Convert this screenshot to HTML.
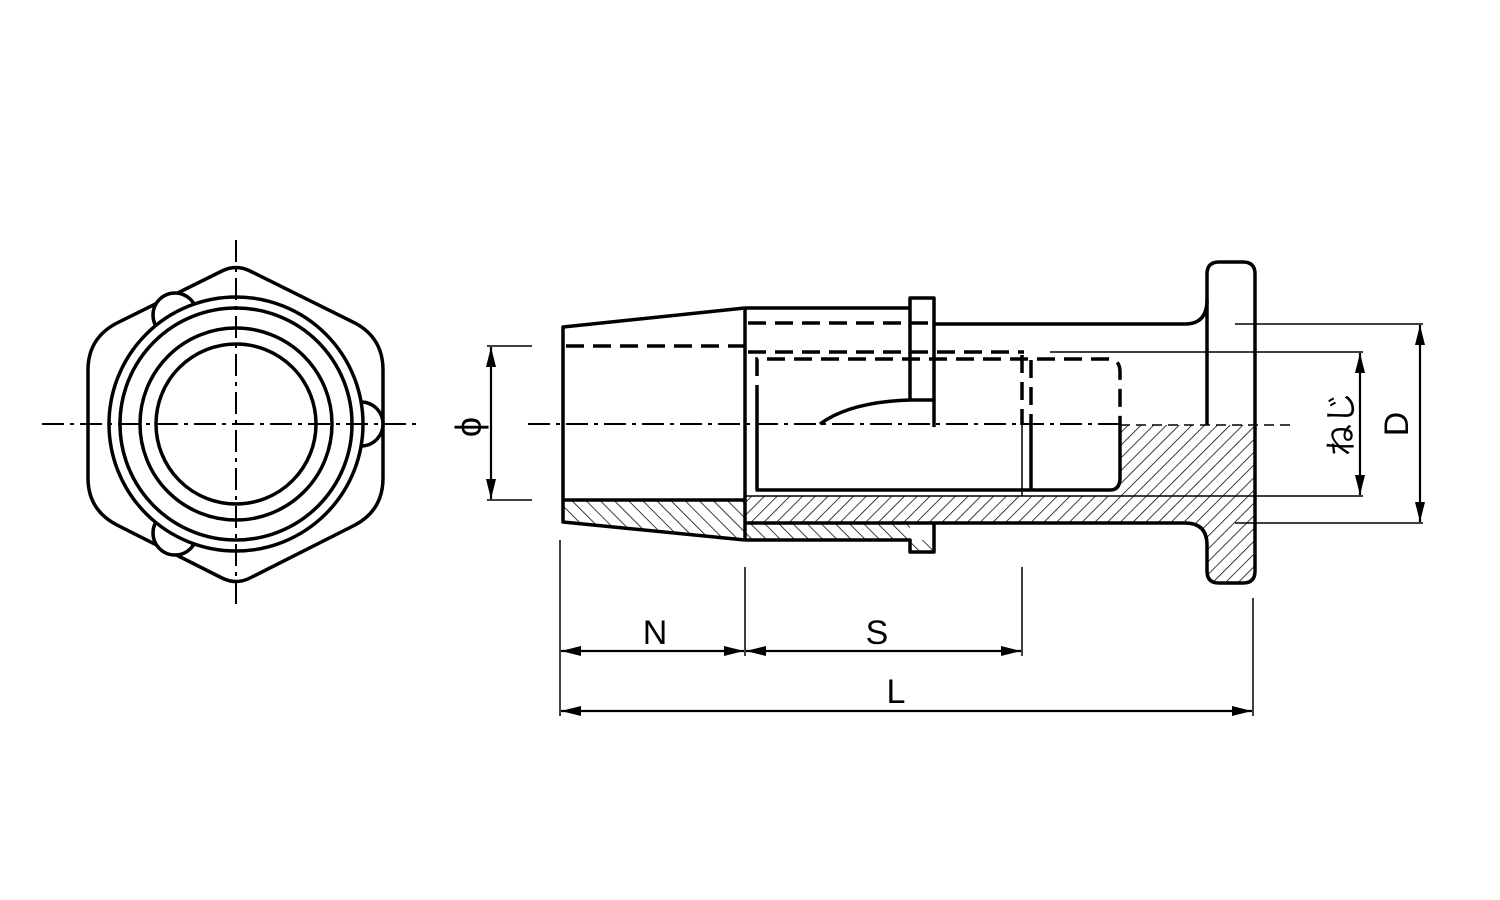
<!DOCTYPE html>
<html><head><meta charset="utf-8"><style>
html,body{margin:0;padding:0;background:#fff;}
svg{display:block;}
text{font-family:"Liberation Sans","Noto Sans CJK JP",sans-serif;fill:#000;}
</style></head><body>
<svg width="1500" height="900" viewBox="0 0 1500 900" xmlns="http://www.w3.org/2000/svg">
<defs>
<pattern id="hf" patternUnits="userSpaceOnUse" width="9" height="9" patternTransform="rotate(45)">
<line x1="0" y1="0" x2="0" y2="9" stroke="#000" stroke-width="1.5"/></pattern>
<pattern id="hb" patternUnits="userSpaceOnUse" width="10" height="10" patternTransform="rotate(-45)">
<line x1="0" y1="0" x2="0" y2="10" stroke="#000" stroke-width="1.5"/></pattern>
<marker id="ar" viewBox="0 0 20 10" refX="20" refY="5" markerWidth="20" markerHeight="10" markerUnits="userSpaceOnUse" orient="auto-start-reverse">
<path d="M0,0 L20,5 L0,10 z" fill="#000"/></marker>
</defs>

<!-- LEFT VIEW -->
<g fill="none" stroke="#000" stroke-width="3.5">
<path d="M222,271 Q236,264 250,271 L355,323 Q383,338 383,370 L383,478 Q383,510 355,525 L250,578 Q236,585 222,578 L117,525 Q88,510 88,478 L88,370 Q88,338 117,323 Z" fill="#fff"/>
<circle cx="175" cy="315" r="22" fill="#fff"/>
<circle cx="175" cy="533" r="22" fill="#fff"/>
<circle cx="361" cy="424" r="22" fill="#fff"/>
<circle cx="236" cy="424" r="127" fill="#fff"/>
<circle cx="236" cy="424" r="116"/>
<circle cx="236" cy="424" r="96"/>
<circle cx="236" cy="424" r="80"/>
</g>
<g stroke="#000" stroke-width="2" stroke-dasharray="22,6,4,6">
<line x1="236" y1="240" x2="236" y2="610"/>
<line x1="42" y1="424" x2="420" y2="424"/>
</g>

<!-- RIGHT VIEW hatching -->
<path d="M563,500 L745,500 L745,540 L563,522 Z" fill="url(#hb)"/>
<path d="M745,523 L910,523 L910,552 L934,552 L934,540 L745,540 Z" fill="url(#hb)"/>
<path d="M745,496 L1120,496 L1120,425 L1255,425 L1255,583 L1207,583 L1207,545 Q1207,523 1185,523 L745,523 Z" fill="url(#hf)"/>

<g fill="none" stroke="#000" stroke-width="3.5" stroke-linejoin="round">
<path d="M745,308 L563,327 L563,522 L745,540"/>
<line x1="563" y1="500" x2="745" y2="500"/>
<line x1="745" y1="308" x2="745" y2="540"/>
<line x1="745" y1="308" x2="910" y2="308"/>
<path d="M910,400 L910,298 L934,298 L934,427"/>
<path d="M934,324 L1185,324 Q1207,324 1207,300 L1207,274 Q1207,262 1219,262 L1243,262 Q1255,262 1255,274 L1255,571 Q1255,583 1243,583 L1219,583 Q1207,583 1207,571 L1207,545 Q1207,523 1185,523 L745,523"/>
<line x1="1207" y1="300" x2="1207" y2="425"/>
<path d="M745,540 L910,540 L910,552 L934,552 L934,523"/>
<path d="M757,403 L757,490 L1110,490 Q1120,490 1120,478 L1120,425"/>
<line x1="1031" y1="425" x2="1031" y2="490"/>
<path d="M820,424 Q850,402 910,400 L934,400"/>
</g>
<line x1="1022" y1="425" x2="1022" y2="496" stroke="#000" stroke-width="1.5"/>
<line x1="745" y1="496" x2="1255" y2="496" stroke="#000" stroke-width="1.5"/>

<g fill="none" stroke="#000" stroke-width="3.5" stroke-dasharray="18,9">
<line x1="566" y1="346" x2="745" y2="346"/>
<line x1="748" y1="323" x2="934" y2="323"/>
<line x1="748" y1="352" x2="1024" y2="352"/>
<path d="M757,403 L757,359 L1108,359 Q1120,359 1120,372 L1120,425"/>
<line x1="1022" y1="355" x2="1022" y2="425"/>
<line x1="1031" y1="360" x2="1031" y2="425"/>
</g>
<line x1="1120" y1="425" x2="1290" y2="425" stroke="#000" stroke-width="1.5" stroke-dasharray="10,6"/>

<line x1="528" y1="424" x2="1120" y2="424" stroke="#000" stroke-width="2" stroke-dasharray="22,6,4,6"/>

<g stroke="#000" stroke-width="1.5" fill="none">
<line x1="487" y1="346" x2="532" y2="346"/>
<line x1="487" y1="500" x2="532" y2="500"/>
<line x1="1235" y1="324" x2="1423" y2="324"/>
<line x1="1050" y1="352" x2="1363" y2="352"/>
<line x1="1255" y1="496" x2="1363" y2="496"/>
<line x1="1235" y1="523" x2="1423" y2="523"/>
<line x1="560" y1="540" x2="560" y2="716"/>
<line x1="745" y1="567" x2="745" y2="656"/>
<line x1="1022" y1="567" x2="1022" y2="656"/>
<line x1="1253" y1="598" x2="1253" y2="716"/>
</g>
<g stroke="#000" stroke-width="2.2">
<line x1="491" y1="347" x2="491" y2="499" marker-start="url(#ar)" marker-end="url(#ar)"/>
<line x1="1360" y1="353" x2="1360" y2="495" marker-start="url(#ar)" marker-end="url(#ar)"/>
<line x1="1420" y1="325" x2="1420" y2="522" marker-start="url(#ar)" marker-end="url(#ar)"/>
<line x1="561" y1="651" x2="744" y2="651" marker-start="url(#ar)" marker-end="url(#ar)"/>
<line x1="746" y1="651" x2="1021" y2="651" marker-start="url(#ar)" marker-end="url(#ar)"/>
<line x1="561" y1="711" x2="1252" y2="711" marker-start="url(#ar)" marker-end="url(#ar)"/>
</g>

<text x="655" y="644" font-size="34" text-anchor="middle">N</text>
<text x="877" y="644" font-size="34" text-anchor="middle">S</text>
<text x="896" y="703" font-size="34" text-anchor="middle">L</text>
<text transform="translate(481,427) rotate(-90)" font-size="36" text-anchor="middle">ϕ</text>
<text transform="translate(1352,424) rotate(-90)" font-size="32" text-anchor="middle">ねじ</text>
<text transform="translate(1408,424) rotate(-90)" font-size="34" text-anchor="middle">D</text>
</svg>
</body></html>
